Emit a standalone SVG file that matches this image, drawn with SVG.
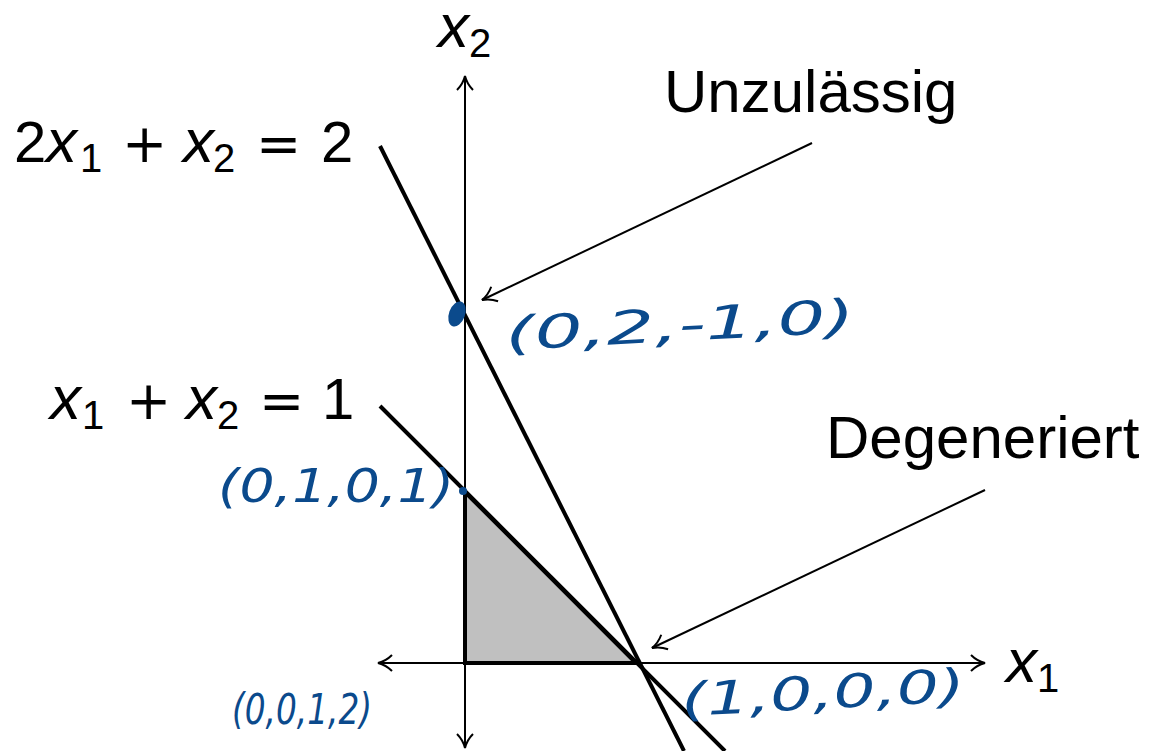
<svg xmlns="http://www.w3.org/2000/svg" width="1153" height="751" viewBox="0 0 1153 751">
<defs>
<marker id="open" viewBox="0 0 20 20" refX="18" refY="10" markerWidth="20" markerHeight="20" markerUnits="userSpaceOnUse" orient="auto-start-reverse">
<path d="M4,2 Q10,8 18,10 Q10,12 4,18" fill="none" stroke="#000" stroke-width="2"/>
</marker>
</defs>
<style>
.lbl{font-family:"Liberation Sans",Arial,sans-serif;font-size:58px;fill:#000}
.word{font-size:60px}
.mi{font-style:italic;font-size:62px}
.sub{font-size:40px}
.op{font-family:"DejaVu Sans",sans-serif;font-size:54px}
.hw{font-family:"DejaVu Sans",sans-serif;font-style:italic;font-size:46px;fill:#0b4a8c}
.axis{stroke:#000;stroke-width:2;fill:none}
.con{stroke:#000;stroke-width:4;fill:none}
.ptr{stroke:#000;stroke-width:2;fill:none}
</style>
<g id="feasible-region">
<polygon points="465,663 636,663 465,492" fill="#c0c0c0" stroke="#000" stroke-width="4" stroke-linejoin="miter"/>
</g>
<g id="connectors">
<line class="axis" x1="378" y1="663" x2="985" y2="663" marker-start="url(#open)" marker-end="url(#open)"/>
<line class="axis" x1="465" y1="748" x2="465" y2="76" marker-start="url(#open)" marker-end="url(#open)"/>
<line class="con" x1="380" y1="146" x2="684" y2="751"/>
<line class="con" x1="380" y1="406" x2="725" y2="751"/>
<line class="ptr" x1="812" y1="143" x2="482" y2="300" marker-end="url(#open)"/>
<line class="ptr" x1="985" y1="490" x2="652" y2="648" marker-end="url(#open)"/>
</g>
<g id="axis-x2-label">
<text class="lbl" y="47"><tspan class="mi" x="438">x</tspan><tspan class="sub" x="469" y="57">2</tspan></text>
</g>
<g id="axis-x1-label">
<text class="lbl" y="682"><tspan class="mi" x="1006">x</tspan><tspan class="sub" x="1037" y="692">1</tspan></text>
</g>
<g id="constraint-1-label">
<text class="lbl" y="162"><tspan x="14">2</tspan><tspan class="mi" x="46">x</tspan><tspan class="sub" x="80" y="172">1</tspan><tspan class="op" x="122" y="162">+</tspan><tspan class="mi" x="183" y="162">x</tspan><tspan class="sub" x="213" y="172">2</tspan><tspan class="op" x="256" y="162">=</tspan><tspan x="321" y="162">2</tspan></text>
</g>
<g id="constraint-2-label">
<text class="lbl" y="419"><tspan class="mi" x="50">x</tspan><tspan class="sub" x="82" y="429">1</tspan><tspan class="op" x="126" y="419">+</tspan><tspan class="mi" x="186" y="419">x</tspan><tspan class="sub" x="217" y="429">2</tspan><tspan class="op" x="259" y="419">=</tspan><tspan x="322" y="419">1</tspan></text>
</g>
<g id="unzulaessig">
<text class="lbl word" x="664" y="112">Unzulässig</text>
</g>
<g id="degeneriert">
<text class="lbl word" x="826" y="458">Degeneriert</text>
</g>
<g id="point-infeasible">
<ellipse cx="457" cy="314" rx="8" ry="13" transform="rotate(20 457 314)" fill="#0b4a8c"/>
<text class="hw" x="506" y="350" textLength="350" lengthAdjust="spacingAndGlyphs" transform="rotate(-3 506 350)">(0,2,-1,0)</text>
</g>
<g id="point-0101">
<circle cx="463" cy="491" r="4" fill="#0b4a8c"/>
<text class="hw" x="218" y="502" textLength="236" lengthAdjust="spacingAndGlyphs">(0,1,0,1)</text>
</g>
<g id="point-0012">
<text class="hw" x="232" y="724" textLength="140" lengthAdjust="spacingAndGlyphs" style="font-size:42px">(0,0,1,2)</text>
</g>
<g id="point-1000">
<text class="hw" x="682" y="716" textLength="284" lengthAdjust="spacingAndGlyphs" transform="rotate(-3 682 716)">(1,0,0,0)</text>
</g>
</svg>
